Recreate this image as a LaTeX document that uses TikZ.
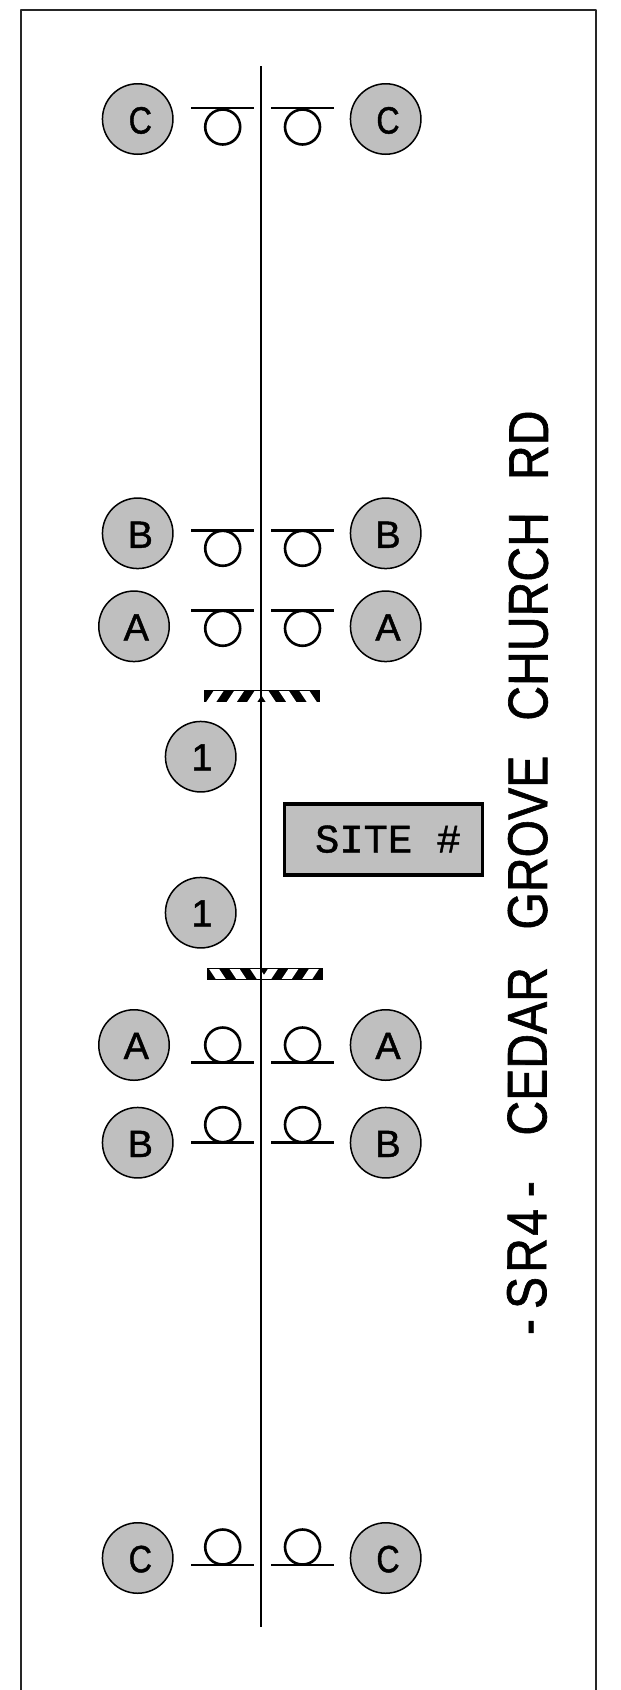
\documentclass[tikz,border=0pt]{standalone}
\usepackage{fontspec}
\setmainfont{Liberation Sans}
\newfontfamily\signfam[FakeBold=1.2]{Liberation Sans}
\newfontfamily\monofam[FakeBold=1]{Liberation Mono}
\definecolor{signgray}{HTML}{BFBFBF}
\tikzset{
  framelin/.style={draw=black!85,line width=2pt,line join=round},
  roadlin/.style={draw=black,line width=1.8pt},
  signc/.style={circle,draw=black,line width=1.5pt,fill=signgray,minimum size=70.5pt,inner sep=0pt},
  sgnlbl/.style={inner sep=0pt,text height=27pt,text depth=0pt,font=\signfam\fontsize{38}{40}\selectfont},
  postbar/.style={draw=black,line width=2.8pt},
  postring/.style={circle,draw=black,line width=2.6pt,fill=white,minimum size=35pt,inner sep=0pt},
  sitebox/.style={draw=black,line width=3.6pt,fill=signgray,minimum width=198pt,minimum height=71pt,inner sep=0pt},
  sitelbl/.style={inner sep=0pt,text height=27pt,text depth=0pt,font=\monofam\fontsize{40.5}{44}\selectfont},
  roadname/.style={inner sep=0pt,text height=39pt,text depth=0pt,rotate=89.87,font=\signfam\fontsize{56}{60}\selectfont}
}
% striped barricade: x of the centre, y of the top edge, direction of the stripes
\newcommand{\stripebar}[3]{%
  \begin{scope}[shift={(#1,#2)},yscale=#3]
    \fill[black] (-57,0) rectangle (59,12);
    \begin{scope}
      \clip (-57,1.2) rectangle (59,10.8);
      \fill[white] (-14,12) -- (-4,12) -- (0.5,5) -- (5,12) -- (15,12) -- (7,0) -- (-6,0) -- cycle;
      \foreach \d in {20.5,41}{
        \fill[white] (-14-\d,12) -- (-4-\d,12) -- (4-\d,0) -- (-6-\d,0) -- cycle;
        \fill[white] (15+\d,12) -- (5+\d,12) -- (-3+\d,0) -- (7+\d,0) -- cycle;
      }
    \end{scope}
  \end{scope}}
\begin{document}
\begin{tikzpicture}[x=1pt,y=-1pt]
\useasboundingbox (0,0) rectangle (621,1690);
% frame, open at the bottom
\draw[framelin] (21,1690) -- (21,10) -- (595.5,10) -- (595.5,1690);
% barricades
\stripebar{261}{690.3}{1}
\stripebar{263.5}{980}{-1}
% road centre line
\coordinate (roadtop) at (261,66);
\coordinate (roadend) at (261,1627);
\draw[roadlin] (roadtop) -- (roadend);
% signposts: bar + ring
\foreach \n/\yb/\yc in {rc/108/127,rb/530.3/548.3,ra/610.3/628.3,sa/1062.3/1045,sb/1142.7/1124.7,sc/1565/1547}{
  \node[postring] (\n l) at (222.7,\yc) {};
  \node[postring] (\n r) at (302.5,\yc) {};
  \coordinate (\n la) at (191,\yb); \coordinate (\n lb) at (253.5,\yb);
  \coordinate (\n ra) at (271,\yb); \coordinate (\n rb) at (333.5,\yb);
  \draw[postbar] (\n la) -- (\n lb);
  \draw[postbar] (\n ra) -- (\n rb);
}
% signs
\node[signc] (c1l) at (137.7,119) {};
\node[signc] (c1r) at (385.7,119) {};
\node[signc] (b1l) at (137.7,533.3) {};
\node[signc] (b1r) at (385.7,533.3) {};
\node[signc] (a1l) at (134,626.3) {};
\node[signc] (a1r) at (385.7,626.3) {};
\node[signc] (o1) at (200.7,756.7) {};
\node[signc] (o2) at (200.7,912.7) {};
\node[signc] (a2l) at (134,1045) {};
\node[signc] (a2r) at (385.7,1045) {};
\node[signc] (b2l) at (137.7,1142.7) {};
\node[signc] (b2r) at (385.7,1142.7) {};
\node[signc] (c2l) at (137.7,1558) {};
\node[signc] (c2r) at (385.7,1558) {};
% sign letters
\node[sgnlbl] (tc1l) at (140.3,120) {\scalebox{0.85}[1]{C}};
\node[sgnlbl] (tc1r) at (388,120) {\scalebox{0.85}[1]{C}};
\node[sgnlbl] (tb1l) at (140.3,534.3) {B};
\node[sgnlbl] (tb1r) at (388,534.3) {B};
\node[sgnlbl] (ta1l) at (136.3,627) {A};
\node[sgnlbl] (ta1r) at (388,627) {A};
\node[sgnlbl] (to1) at (202,757) {1};
\node[sgnlbl] (to2) at (202,913) {1};
\node[sgnlbl] (ta2l) at (136.3,1045.5) {A};
\node[sgnlbl] (ta2r) at (388,1045.5) {A};
\node[sgnlbl] (tb2l) at (140.3,1143.5) {B};
\node[sgnlbl] (tb2r) at (388,1143.5) {B};
\node[sgnlbl] (tc2l) at (140.3,1558.7) {\scalebox{0.85}[1]{C}};
\node[sgnlbl] (tc2r) at (388,1558.7) {\scalebox{0.85}[1]{C}};
% site box
\node[sitebox] (site) at (383.4,839.4) {};
\node[sitelbl] (sitetxt) at (388,839) {SITE \#};
% road name
\node[roadname] (road) at (527.5,872.7) {\scalebox{0.86}[1]{\spaceskip=37.2pt -\kern11.6pt S\kern4.7pt R\kern2.8pt 4\kern13.7pt- \kern15.7pt CEDAR \kern6.3pt GROVE \kern3.5pt CHURCH RD}};
\end{tikzpicture}
\end{document}
